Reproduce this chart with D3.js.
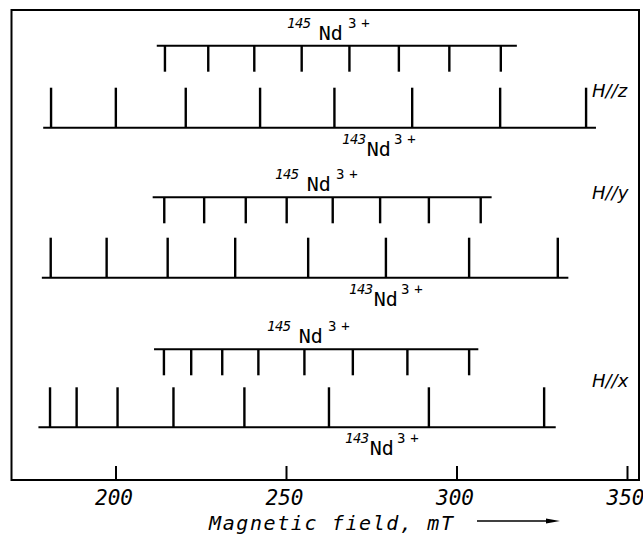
<!DOCTYPE html>
<html>
<head>
<meta charset="utf-8">
<script src="https://cdn.jsdelivr.net/npm/d3@7"></script>
<style>
  html, body { margin: 0; padding: 0; background: #fff; }
  svg { display: block; }
</style>
</head>
<body>
<div id="chart"></div>
<script>
// ---------------- data (magnetic field, mT) ----------------
const orientations = ["H//z", "H//y", "H//x"];

// 145Nd3+ hyperfine lines (8 lines, I = 7/2)
const nd145_z = [214.5, 227.2, 240.7, 254.6, 268.6, 283.1, 297.9, 313.0];
const nd145_y = [214.3, 226.0, 238.2, 250.2, 263.7, 277.6, 291.9, 307.1];
const nd145_x = [214.2, 222.2, 231.3, 241.9, 255.4, 269.6, 285.6, 303.7];

// 143Nd3+ hyperfine lines (8 lines, I = 7/2)
const nd143_z = [181.1, 200.1, 220.6, 242.4, 264.2, 287.0, 312.8, 338.0];
const nd143_y = [181.0, 197.4, 215.3, 235.1, 256.5, 279.3, 303.7, 329.7];
const nd143_x = [180.8, 188.6, 200.6, 217.0, 237.8, 262.6, 291.9, 325.7];

// extents of the stick-diagram base lines
const span145_z = [212.1, 317.7];
const span145_y = [210.9, 310.3];
const span145_x = [211.3, 306.4];
const span143_z = [178.8, 340.9];
const span143_y = [178.4, 332.8];
const span143_x = [177.4, 329.1];

const axisTicks = [200, 250, 300, 350];
const axisTitle = "Magnetic field, mT";

// ---------------- layout ----------------
const W = 643, H = 535;
const frame = { left: 11.5, right: 639, top: 10, bottom: 480 };

const x = d3.scaleLinear().domain([200, 350]).range([115.5, 627]);

const rows = [
  { name: orientations[0], l145: nd145_z, s145: span145_z, l143: nd143_z, s143: span143_z,
    y145: 45.7, y143: 127.7, lab145x: 287, lab143x: 342, dirY: 97 },
  { name: orientations[1], l145: nd145_y, s145: span145_y, l143: nd143_y, s143: span143_y,
    y145: 197.3, y143: 277.7, lab145x: 275, lab143x: 349, dirY: 199 },
  { name: orientations[2], l145: nd145_x, s145: span145_x, l143: nd143_x, s143: span143_x,
    y145: 349.3, y143: 427.3, lab145x: 267, lab143x: 345, dirY: 387 }
];
const len145 = 26, len143 = 40;

const svg = d3.select("#chart").append("svg")
  .attr("width", W).attr("height", H);

// frame
svg.append("rect")
  .attr("x", frame.left).attr("y", frame.top)
  .attr("width", frame.right - frame.left)
  .attr("height", frame.bottom - frame.top)
  .attr("fill", "none").attr("stroke", "#000").attr("stroke-width", 2);

// bottom axis (inner ticks)
const axis = d3.axisBottom(x).tickValues(axisTicks).tickSize(-14).tickPadding(0).tickFormat(d3.format("d"));
const gAxis = svg.append("g").attr("transform", `translate(0,${frame.bottom})`).call(axis);
gAxis.select(".domain").remove();
gAxis.selectAll(".tick line").attr("stroke", "#000").attr("stroke-width", 2);
gAxis.selectAll(".tick text")
  .attr("y", 25).attr("dy", 0).attr("dx", -2)
  .attr("fill", "#000")
  .style("font-family", "'DejaVu Sans Mono', monospace")
  .style("font-style", "italic")
  .style("font-size", "21px");

// axis title + arrow
svg.append("text")
  .attr("x", 209).attr("y", 530)
  .style("font-family", "'DejaVu Sans Mono', monospace")
  .style("font-style", "italic")
  .style("font-size", "20px")
  .style("letter-spacing", "1.6px")
  .text(axisTitle);
svg.append("line")
  .attr("x1", 477).attr("x2", 548).attr("y1", 521).attr("y2", 521)
  .attr("stroke", "#000").attr("stroke-width", 1.5);
svg.append("path")
  .attr("d", "M546,518.5 L560,521 L546,523.5 Z")
  .attr("fill", "#000");

// isotope label helper
function isoLabel(g, px, baseY, mass, gap1, gap2) {
  const t = g.append("text").attr("x", px).attr("y", baseY)
    .style("font-family", "'DejaVu Sans Mono', monospace").attr("fill", "#000");
  t.append("tspan").attr("dy", -12).style("font-size", "14px").style("font-style", "italic")
    .style("letter-spacing", "-0.5px").text(mass);
  t.append("tspan").attr("dx", gap1).attr("dy", 12).style("font-size", "20px")
    .text("Nd");
  t.append("tspan").attr("dx", gap2).attr("dy", -12).style("font-size", "14px")
    .style("letter-spacing", "5px").text("3+");
}

rows.forEach(r => {
  const g = svg.append("g");
  // 145 base line + downward sticks
  g.append("line")
    .attr("x1", x(r.s145[0])).attr("x2", x(r.s145[1]))
    .attr("y1", r.y145).attr("y2", r.y145)
    .attr("stroke", "#000").attr("stroke-width", 2);
  g.selectAll(".s145").data(r.l145).join("line")
    .attr("x1", d => x(d)).attr("x2", d => x(d))
    .attr("y1", r.y145).attr("y2", r.y145 + len145)
    .attr("stroke", "#000").attr("stroke-width", 2.4);
  // 143 base line + upward sticks
  g.append("line")
    .attr("x1", x(r.s143[0])).attr("x2", x(r.s143[1]))
    .attr("y1", r.y143).attr("y2", r.y143)
    .attr("stroke", "#000").attr("stroke-width", 2);
  g.selectAll(".s143").data(r.l143).join("line")
    .attr("x1", d => x(d)).attr("x2", d => x(d))
    .attr("y1", r.y143).attr("y2", r.y143 - len143)
    .attr("stroke", "#000").attr("stroke-width", 2.4);

  // labels
  isoLabel(g, r.lab145x, r.y145 - 6, "145", 8, 5);
  isoLabel(g, r.lab143x, r.y143 + 28, "143", 1, 3);

  g.append("text")
    .attr("x", 592).attr("y", r.dirY)
    .style("font-family", "'DejaVu Sans', sans-serif")
    .style("font-style", "italic")
    .style("font-size", "18px")
    .text(r.name);
});
</script>
</body>
</html>
